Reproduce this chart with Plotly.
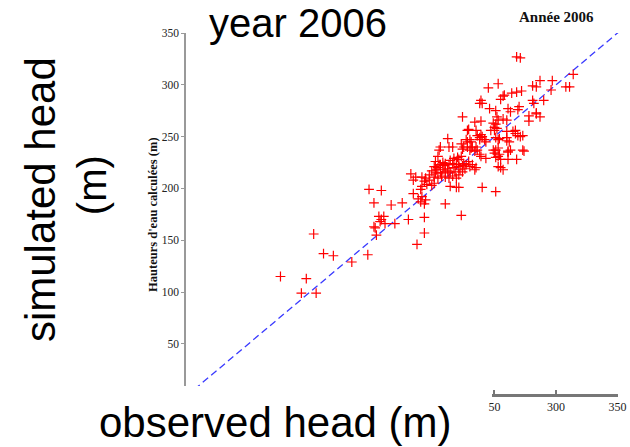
import plotly.graph_objects as go

# observed head (m) and simulated head (m)
observed = [268, 271, 314, 297, 287, 281, 284, 308, 311, 296, 253, 245, 264, 268, 272, 257, 258, 255,
            239, 240, 238, 281, 282, 290, 270, 269, 246, 251, 261, 263, 284, 284, 278, 287, 278, 224,
            252, 253, 257, 260, 239, 234, 249, 251, 250, 252, 247, 250, 267, 265, 267, 260, 229, 228,
            235, 212, 227, 230, 231, 228, 236, 238, 239, 240, 242, 243, 238, 251, 254, 253, 260, 262,
            260, 269, 271, 273, 206, 205, 213, 216, 223, 224, 225, 228, 230, 231, 232, 235, 236, 238,
            234, 243, 239, 249, 251, 253, 250, 253, 251, 254, 261, 263, 261, 273, 274, 255, 261, 268,
            253, 257, 255, 204, 202, 205, 208, 201, 204, 206, 209, 212, 213, 210, 214, 217, 220, 221,
            223, 216, 219, 221, 224, 225, 227, 230, 232, 235, 234, 208, 210, 214, 216, 219, 221, 213,
            210, 199, 202, 197, 201, 204, 206, 182, 186, 184, 191, 194, 193, 197, 191, 190, 195, 199,
            201, 214, 219, 221, 240, 251, 184, 188, 191, 190, 193, 194, 210, 175, 166, 158, 156, 158,
            160, 157, 161, 169, 180, 193, 223, 193, 187, 148, 152, 152, 153, 154, 103, 111, 119, 134,
            147, 76, 97, 93, 105, 212, 218, 222, 226, 207, 217, 224, 229, 203]
simulated = [327, 326, 310, 304, 304, 299, 298, 298, 298, 295, 301, 297, 292, 293, 294, 289, 290, 286,
             285, 282, 282, 285, 282, 285, 279, 276, 277, 275, 277, 274, 273, 272, 270, 269, 265, 269,
             269, 266, 267, 266, 265, 264, 263, 262, 259, 258, 256, 256, 256, 255, 253, 255, 257, 256,
             256, 248, 247, 247, 245, 245, 251, 249, 252, 250, 247, 245, 247, 249, 248, 247, 249, 245,
             246, 251, 250, 251, 240, 237, 240, 240, 243, 238, 240, 240, 237, 239, 240, 240, 237, 233,
             236, 229, 231, 237, 237, 239, 234, 231, 230, 233, 236, 237, 235, 237, 236, 228, 228, 228,
             221, 218, 220, 231, 226, 223, 225, 221, 220, 223, 222, 219, 223, 224, 227, 229, 230, 228,
             231, 224, 223, 221, 222, 224, 223, 221, 223, 220, 218, 218, 216, 215, 212, 210, 213, 210,
             211, 217, 215, 213, 211, 210, 215, 214, 211, 208, 211, 210, 207, 208, 202, 199, 204, 203,
             205, 202, 201, 201, 201, 197, 195, 190, 192, 187, 185, 189, 185, 186, 184, 198, 173, 170,
             173, 168, 166, 166, 170, 172, 174, 157, 146, 199, 186, 163, 162, 155, 156, 137, 135, 129,
             136, 115, 113, 99, 99, 217, 216, 218, 219, 212, 220, 216, 226, 218]
one_to_one = [6, 354]          # ends of the dashed 1:1 line
y_ticks = [50, 100, 150, 200, 250, 300, 350]
x_ticks = [250, 300, 350]
x_tick_text = ["50", "300", "350"]
x2_range = [248.0, 350.4]      # visible stretch of the bottom axis

fig = go.Figure()
fig.add_trace(go.Scatter(
    x=one_to_one, y=one_to_one, mode="lines",
    line=dict(color="#3a3aff", width=1.3, dash="7px,4px"), hoverinfo="skip"))
fig.add_trace(go.Scatter(
    x=observed, y=simulated, mode="markers",
    marker=dict(symbol="cross-thin", size=7, line=dict(color="#ff0000", width=1.2))))
# empty trace so that the short bottom axis (x2) gets drawn
fig.add_trace(go.Scatter(x=[], y=[], xaxis="x2", yaxis="y", mode="markers",
                         hoverinfo="skip"))

serif = "Liberation Serif"
sans = "Liberation Sans"

fig.update_layout(
    width=630, height=447,
    margin=dict(l=186, r=5, t=33, b=51, autoexpand=False),
    paper_bgcolor="white", plot_bgcolor="rgba(0,0,0,0)",
    showlegend=False,
    xaxis=dict(range=[-0.8, 356.1], domain=[0, 1], visible=False),
    yaxis=dict(range=[9.3, 350], domain=[0.0275, 1], showline=True, linecolor="#999999",
               linewidth=1.5, ticks="outside", ticklen=3, tickcolor="#999999",
               tickvals=y_ticks, tickfont=dict(family=serif, size=11.5, color="#222222"),
               showgrid=False, zeroline=False, automargin=False),
    xaxis2=dict(domain=[0.697, 0.984], range=x2_range, anchor="free", position=0,
                showline=True, linecolor="#777777", linewidth=2, ticks="inside", ticklen=5,
                tickcolor="#777777", tickwidth=1.5, tickvals=x_ticks, ticktext=x_tick_text,
                tickfont=dict(family=serif, size=12, color="#222222"),
                showgrid=False, zeroline=False, automargin=False),
)

# baseline of the short bottom axis, spanning its range
fig.add_shape(type="line", xref="x2", yref="paper", x0=x2_range[0], x1=x2_range[1],
              y0=0.003, y1=0.003, line=dict(color="#777777", width=2), layer="above")

annotations = [
    dict(text="year 2006", x=0.255, y=1.0275, font=dict(family=sans, size=40, color="black")),
    dict(text="simulated head", x=-0.330, y=0.54, textangle=-90,
         font=dict(family=sans, size=42, color="black")),
    dict(text="(m)", x=-0.214, y=0.581, textangle=-90,
         font=dict(family=sans, size=40, color="black")),
    dict(text="observed head (m)", x=0.203, y=-0.074,
         font=dict(family=sans, size=42, color="black")),
    dict(text="<b>Hauteurs d'eau calculées (m)</b>", x=-0.075, y=0.499, textangle=-90,
         font=dict(family=serif, size=12.5, color="#111111")),
    dict(text="<b>Année 2006</b>", x=0.845, y=1.044,
         font=dict(family=serif, size=15, color="#111111")),
]
for a in annotations:
    fig.add_annotation(xref="paper", yref="paper", showarrow=False,
                       xanchor="center", yanchor="middle", **a)

fig.write_html("out.html")
